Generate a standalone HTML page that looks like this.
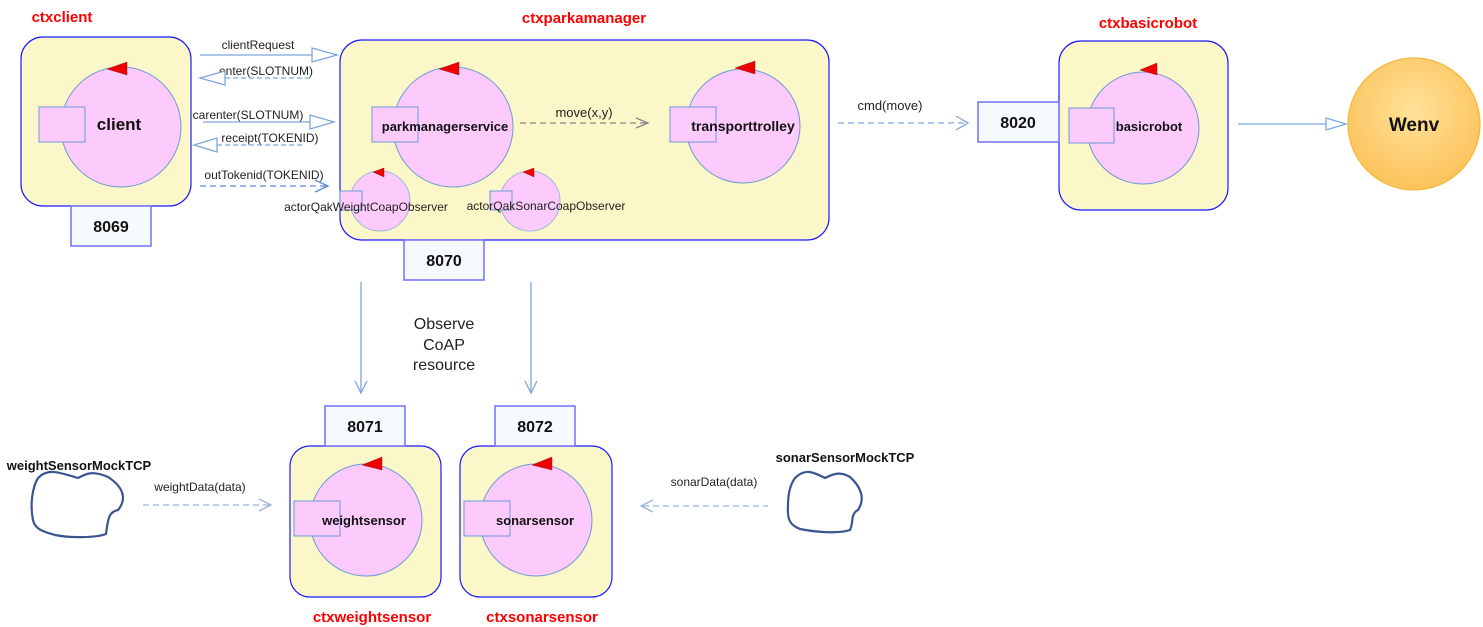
<!DOCTYPE html>
<html><head><meta charset="utf-8"><style>
html,body{margin:0;padding:0;background:#fff}
svg{display:block;font-family:"Liberation Sans",Arial,sans-serif}
</style></head><body>
<svg width="1483" height="627" viewBox="0 0 1483 627" xmlns="http://www.w3.org/2000/svg">
<defs>
<radialGradient id="wg" cx="50%" cy="40%" r="60%"><stop offset="0" stop-color="#ffe29a"/><stop offset="1" stop-color="#fcc25a"/></radialGradient>
</defs>
<g fill="#fcf7c8" stroke="#1a1aff" stroke-width="1.2">
<rect x="21" y="37" width="170" height="169" rx="22"/>
<rect x="340" y="40" width="489" height="200" rx="22"/>
<rect x="1059" y="41" width="169" height="169" rx="22"/>
<rect x="290" y="446" width="151" height="151" rx="20"/>
<rect x="460" y="446" width="152" height="151" rx="20"/>
</g>
<g fill="#f5fbfd" stroke="#7070ff" stroke-width="1.5">
<rect x="71" y="206" width="80" height="40"/>
<rect x="404" y="240" width="80" height="40"/>
<rect x="978" y="102" width="81" height="40"/>
<rect x="325" y="406" width="80" height="40"/>
<rect x="495" y="406" width="80" height="40"/>
</g>
<g font-weight="bold" font-size="16" text-anchor="middle" fill="#111">
<text x="111" y="232">8069</text><text x="444" y="266">8070</text><text x="1018" y="128">8020</text>
<text x="365" y="432">8071</text><text x="535" y="432">8072</text>
</g>
<g fill="#ff0000" font-weight="bold" font-size="15" text-anchor="middle">
<text x="62" y="22">ctxclient</text><text x="584" y="23">ctxparkamanager</text><text x="1148" y="28">ctxbasicrobot</text>
<text x="372" y="622">ctxweightsensor</text><text x="542" y="622">ctxsonarsensor</text>
</g>
<g fill="#fccbfc" stroke="#6a9ad8" stroke-width="1">
<circle cx="121" cy="127" r="60"/><circle cx="453" cy="127" r="60"/><circle cx="743" cy="126" r="57"/>
<circle cx="1143" cy="128" r="56"/><circle cx="366" cy="520" r="56"/><circle cx="536" cy="520" r="56"/>
<circle cx="380" cy="201" r="30" stroke="#a0b8e0"/><circle cx="530" cy="201" r="30" stroke="#a0b8e0"/>
<rect x="39" y="107" width="46" height="35"/><rect x="372" y="107" width="46" height="35"/>
<rect x="670" y="107" width="46" height="35"/><rect x="1069" y="108" width="45" height="35"/>
<rect x="294" y="501" width="46" height="35"/><rect x="464" y="501" width="46" height="35"/>
<rect x="340" y="191" width="22" height="19"/><rect x="490" y="191" width="22" height="19"/>
</g>
<g fill="#ee0000" stroke="#a02020" stroke-width="0.5">
<polygon points="107,69 127,62 127,75"/><polygon points="439,69 459,62 459,75"/>
<polygon points="735,68 755,61 755,74"/><polygon points="1140,70 1157,63 1157,75"/>
<polygon points="362,465 382,457 382,470"/><polygon points="532,465 552,457 552,470"/>
<polygon points="373,172 384,168 384,177"/><polygon points="523,172 534,168 534,177"/>
<polygon points="1400,67 1421,59 1421,73"/>
</g>
<circle cx="1414" cy="124" r="66" fill="url(#wg)" stroke="#f2b83a" stroke-width="1.2"/>
<g font-weight="bold" fill="#111" text-anchor="middle">
<text x="119" y="130" font-size="17">client</text>
<text x="445" y="131" font-size="13">parkmanagerservice</text>
<text x="743" y="131" font-size="14">transporttrolley</text>
<text x="1149" y="131" font-size="13">basicrobot</text>
<text x="364" y="525" font-size="13">weightsensor</text>
<text x="535" y="525" font-size="13">sonarsensor</text>
<text x="1414" y="131" font-size="19">Wenv</text>
<text x="79" y="470" font-size="13">weightSensorMockTCP</text>
<text x="845" y="462" font-size="13">sonarSensorMockTCP</text>
</g>
<g font-size="12" fill="#222" text-anchor="middle">
<text x="366" y="211">actorQakWeightCoapObserver</text>
<text x="546" y="210">actorQakSonarCoapObserver</text>
<text x="258" y="49">clientRequest</text>
<text x="266" y="75">enter(SLOTNUM)</text>
<text x="248" y="119">carenter(SLOTNUM)</text>
<text x="270" y="142">receipt(TOKENID)</text>
<text x="264" y="179">outTokenid(TOKENID)</text>
<text x="584" y="117" font-size="13">move(x,y)</text>
<text x="890" y="110" font-size="13">cmd(move)</text>
<text x="200" y="491">weightData(data)</text>
<text x="714" y="486">sonarData(data)</text>
</g>
<g font-size="16" fill="#222" text-anchor="middle">
<text x="444" y="329">Observe</text><text x="444" y="350">CoAP</text><text x="444" y="370">resource</text>
</g>
<g fill="none" stroke="#7ea6dc" stroke-width="1.3">
<line x1="200" y1="55" x2="312" y2="55"/><polygon points="312,48 337,55 312,62" fill="#fff"/>
<line x1="225" y1="78" x2="310" y2="78" stroke-dasharray="5,3"/><polygon points="225,71 200,78 225,85" fill="#fff"/>
<line x1="203" y1="122" x2="310" y2="122"/><polygon points="310,115 334,122 310,129" fill="#fff"/>
<line x1="217" y1="145" x2="302" y2="145" stroke-dasharray="5,3"/><polygon points="217,138 194,145 217,152" fill="#fff"/>
<line x1="200" y1="186" x2="326" y2="186" stroke="#5a8ad8" stroke-dasharray="6,4"/><polyline points="315,180 328,186 315,192" stroke="#5a8ad8"/>
<line x1="520" y1="123" x2="646" y2="123" stroke="#888" stroke-dasharray="6,4"/><polyline points="636,118 648,123 636,128" stroke="#888"/>
<line x1="838" y1="123" x2="966" y2="123" stroke-dasharray="6,4"/><polyline points="956,116 968,123 956,130"/>
<line x1="1238" y1="124" x2="1326" y2="124"/><polygon points="1326,118 1346,124 1326,130" fill="#fff"/>
<line x1="361" y1="282" x2="361" y2="393"/><polyline points="355,381 361,393 367,381"/>
<line x1="531" y1="282" x2="531" y2="393"/><polyline points="525,381 531,393 537,381"/>
<line x1="143" y1="505" x2="270" y2="505" stroke="#9ab4e0" stroke-dasharray="6,4"/><polyline points="259,499 271,505 259,511" stroke="#9ab4e0"/>
<line x1="643" y1="506" x2="768" y2="506" stroke="#9ab4e0" stroke-dasharray="6,4"/><polyline points="653,500 641,506 653,512" stroke="#9ab4e0"/>
</g>
<g fill="none" stroke="#3a5590" stroke-width="2.2">
<path d="M38,478 C48,468 58,472 78,478 C86,474 92,470 108,477 C122,486 128,498 118,510 C108,512 108,520 106,534 C95,538 70,538 55,535 C45,532 35,530 33,520 C30,505 32,488 38,478 Z"/>
<path d="M795,478 C805,468 813,472 825,478 C833,474 840,471 850,477 C860,486 866,498 858,510 C850,514 854,522 850,530 C838,534 815,532 800,529 C790,525 787,520 788,505 C788,495 790,485 795,478 Z"/>
</g>
</svg>
</body></html>
